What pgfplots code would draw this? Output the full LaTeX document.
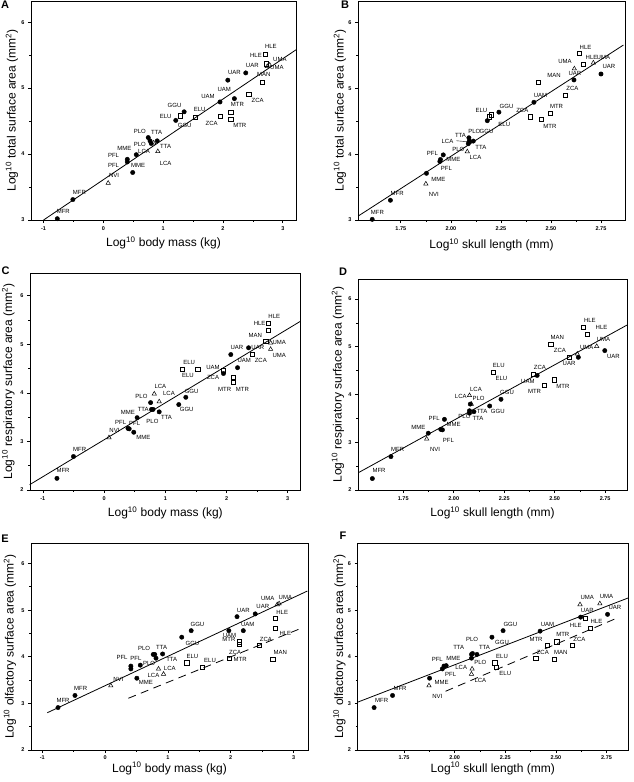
\documentclass[border=0pt]{standalone}
\usepackage{fontspec}
\setmainfont{Liberation Sans}
\usepackage{pgfplots}
\pgfplotsset{compat=1.18}
\usetikzlibrary{calc}
\newcommand{\lb}[3]{\node[font=\fontsize{6}{7}\selectfont, inner sep=0pt] at (axis cs:#1,#2) {#3};}
\pgfplotsset{
 panel/.style={
  scale only axis, anchor=south west, clip=false,
  axis line style={line width=0.9pt},
  tick pos=left, tick align=outside,
  major tick length=3pt, minor tick length=1.6pt,
  minor x tick num=1, minor y tick num=1,
  every tick/.style={black, line width=0.7pt},
  tick label style={font=\fontsize{5.5}{6}\selectfont\bfseries},
  /pgf/number format/assume math mode=true,
  label style={font=\fontsize{12}{14}\selectfont},
 },
 skull/.style={xtick={1.75,2,2.25,2.5,2.75},
   xticklabel style={/pgf/number format/fixed, /pgf/number format/fixed zerofill, /pgf/number format/precision=2},
   xlabel={Log\textsuperscript{10} skull length (mm)}},
 mass/.style={xtick={-1,0,1,2,3}, xlabel={Log\textsuperscript{10} body mass (kg)}},
 circ/.style={only marks, mark=*, mark size=2.2pt, mark options={fill=black, draw=black}},
 sq/.style={only marks, mark=square, mark size=2.1pt, mark options={line width=0.5pt}},
 tri/.style={only marks, mark=triangle, mark size=2.5pt, mark options={line width=0.5pt}},
 reg/.style={black, line width=0.8pt, no marks},
 dreg/.style={black, line width=0.8pt, no marks, dash pattern=on 8pt off 5.5pt},
}
\begin{document}
\begin{tikzpicture}[x=1pt,y=1pt]
\path[use as bounding box] (0,0) rectangle (633,-782);
% ---------------- A
\begin{axis}[panel, mass, at={(31pt,-220pt)}, width=265pt, height=219pt,
  xmin=-1.21, xmax=3.22, ymin=3, ymax=6.32, ytick={3,4,5,6},
  ylabel={Log\textsuperscript{10} total surface area (mm\textsuperscript{2})},
  xlabel style={at={($(axis description cs:0.5,0)+(0,-23pt)$)}, anchor=center},
  ylabel style={at={($(axis description cs:0,0.5)+(-19pt,0)$)}, anchor=center}]
\addplot[reg] coordinates {(-1,3.0) (3.22,5.58)};
\addplot[circ] table {
-0.77 3.02
-0.51 3.31
0.40 3.88
0.40 3.92
0.55 3.99
0.49 3.72
0.75 4.25
0.78 4.20
0.80 4.16
0.90 4.20
1.21 4.51
1.35 4.64
1.95 4.79
2.19 4.84
2.08 5.12
2.38 5.23
};
\addplot[sq] table {
1.29 4.58
1.53 4.56
2.13 4.63
2.13 4.53
1.96 4.57
2.43 4.91
2.65 5.09
2.70 5.51
2.72 5.37
};
\addplot[tri] table {
0.08 3.56
0.91 4.04
0.84 4.17
2.74 5.33
2.78 5.35
};
\lb{2.80}{5.63}{HLE}\lb{2.55}{5.49}{HLE}\lb{2.95}{5.44}{UMA}\lb{2.90}{5.32}{UMA}
\lb{2.49}{5.34}{UAR}\lb{2.68}{5.21}{MAN}\lb{2.19}{5.23}{UAR}\lb{2.02}{4.98}{UAM}
\lb{1.75}{4.88}{UAM}\lb{2.24}{4.75}{MTR}\lb{2.58}{4.81}{ZCA}\lb{1.81}{4.47}{ZCA}
\lb{2.28}{4.44}{MTR}\lb{1.61}{4.67}{ELU}\lb{1.19}{4.73}{GGU}\lb{1.04}{4.57}{ELU}
\lb{1.36}{4.43}{GGU}\lb{0.61}{4.34}{PLO}\lb{0.89}{4.32}{TTA}\lb{0.61}{4.15}{PLO}
\lb{0.35}{4.09}{MME}\lb{0.68}{4.04}{LCA}\lb{1.04}{4.11}{TTA}\lb{0.17}{3.98}{PFL}
\lb{0.17}{3.83}{PFL}\lb{0.58}{3.82}{MME}\lb{1.04}{3.86}{LCA}\lb{0.18}{3.67}{NVI}
\lb{-0.40}{3.42}{MFR}\lb{-0.67}{3.13}{MFR}
\end{axis}
% ---------------- B
\begin{axis}[panel, skull, at={(358pt,-220pt)}, width=267pt, height=219pt,
  xmin=1.536, xmax=2.87, ymin=3, ymax=6.33, ytick={3,4,5,6},
  ylabel={Log\textsuperscript{10} total surface area (mm\textsuperscript{2})},
  xlabel style={at={($(axis description cs:0.5,0)+(0,-25pt)$)}, anchor=center},
  ylabel style={at={($(axis description cs:0,0.5)+(-18pt,0)$)}, anchor=center}]
\addplot[reg] coordinates {(1.537,3.06) (2.862,5.66)};
\addplot[circ] table {
1.607 3.01
1.698 3.30
1.878 3.71
1.945 3.89
1.948 3.92
1.962 3.99
2.090 4.25
2.092 4.20
2.087 4.16
2.112 4.20
2.182 4.51
2.240 4.64
2.415 4.79
2.615 5.13
2.750 5.22
};
\addplot[sq] table {
2.192 4.57
2.203 4.60
2.395 4.57
2.450 4.53
2.498 4.62
2.437 5.10
2.573 4.90
2.642 5.53
2.662 5.37
};
\addplot[tri] table {
1.875 3.55
2.082 4.04
2.095 4.20
2.617 5.30
2.712 5.39
};
\draw[line width=0.4pt] (axis cs:2.028,4.205) -- (axis cs:2.085,4.19);
\lb{1.633}{3.12}{MFR}\lb{1.732}{3.41}{MFR}\lb{1.915}{3.39}{NVI}\lb{1.937}{3.61}{MME}
\lb{1.978}{3.79}{PFL}\lb{2.012}{3.92}{MME}\lb{1.908}{4.01}{PFL}\lb{2.037}{4.07}{PLO}
\lb{2.123}{3.95}{LCA}\lb{2.15}{4.11}{TTA}\lb{1.983}{4.20}{LCA}\lb{2.048}{4.29}{TTA}
\lb{2.117}{4.35}{PLO}\lb{2.178}{4.35}{GGU}\lb{2.153}{4.67}{ELU}\lb{2.278}{4.73}{GGU}
\lb{2.267}{4.46}{ELU}\lb{2.357}{4.67}{ZCA}\lb{2.448}{4.89}{UAM}\lb{2.528}{4.73}{MTR}
\lb{2.495}{4.43}{MTR}\lb{2.515}{5.20}{MAN}\lb{2.607}{5.00}{ZCA}\lb{2.62}{5.23}{UAR}
\lb{2.57}{5.41}{UMA}\lb{2.673}{5.62}{HLE}\lb{2.703}{5.47}{HLE}\lb{2.762}{5.47}{UMA}
\lb{2.79}{5.33}{UAR}
\end{axis}
% ---------------- C
\begin{axis}[panel, mass, at={(30pt,-490pt)}, width=270pt, height=217pt,
  xmin=-1.21, xmax=3.2, ymin=2, ymax=6.47, ytick={2,3,4,5,6},
  ylabel={Log\textsuperscript{10} respiratory surface area (mm\textsuperscript{2})},
  xlabel style={at={($(axis description cs:0.5,0)+(0,-23pt)$)}, anchor=center},
  ylabel style={at={($(axis description cs:0,0.5)+(-22pt,0)$)}, anchor=center}]
\addplot[reg] coordinates {(-1.215,2.11) (3.2,5.47)};
\addplot[circ] table {
-0.77 2.24
-0.50 2.69
0.39 3.27
0.41 3.26
0.485 3.19
0.54 3.49
0.76 3.80
0.775 3.66
0.80 3.66
0.90 3.61
1.22 3.76
1.335 3.91
1.95 4.40
2.18 4.52
2.07 4.79
2.36 4.93
};
\addplot[sq] table {
1.28 4.49
1.53 4.49
1.95 4.46
2.11 4.32
2.11 4.22
2.42 4.80
2.64 5.07
2.68 5.43
2.68 5.29
};
\addplot[tri] table {
0.08 3.08
0.82 3.98
0.90 3.82
2.72 5.03
2.72 4.90
};
\lb{-0.67}{2.40}{MFR}\lb{-0.40}{2.84}{MFR}\lb{0.17}{3.23}{NVI}\lb{0.27}{3.39}{PFL}
\lb{0.50}{3.37}{PFL}\lb{0.64}{3.08}{MME}\lb{0.39}{3.60}{MME}\lb{0.64}{3.66}{TTA}
\lb{1.02}{3.50}{TTA}\lb{0.61}{3.92}{PLO}\lb{0.79}{3.41}{PLO}\lb{0.92}{4.13}{LCA}
\lb{1.06}{3.98}{LCA}\lb{1.35}{3.65}{GGU}\lb{1.43}{4.04}{GGU}\lb{1.39}{4.62}{ELU}
\lb{1.37}{4.35}{ELU}\lb{1.78}{4.52}{UAM}\lb{1.78}{4.31}{ZCA}\lb{2.29}{4.66}{UAM}
\lb{2.17}{4.93}{UAR}\lb{2.51}{4.93}{UAR}\lb{1.97}{4.07}{MTR}\lb{2.26}{4.07}{MTR}
\lb{2.56}{4.66}{ZCA}\lb{2.47}{5.19}{MAN}\lb{2.78}{5.58}{HLE}\lb{2.54}{5.43}{HLE}
\lb{2.86}{5.03}{UMA}\lb{2.86}{4.77}{UMA}
\end{axis}
% ---------------- D
\begin{axis}[panel, skull, at={(358pt,-490pt)}, width=269pt, height=211pt,
  xmin=1.526, xmax=2.858, ymin=2, ymax=6.42, ytick={2,3,4,5,6},
  ylabel={Log\textsuperscript{10} respiratory surface area (mm\textsuperscript{2})},
  xlabel style={at={($(axis description cs:0.5,0)+(0,-23pt)$)}, anchor=center},
  ylabel style={at={($(axis description cs:0,0.5)+(-20pt,0)$)}, anchor=center}]
\addplot[reg] coordinates {(1.531,2.37) (2.858,5.455)};
\addplot[circ] table {
1.597 2.24
1.689 2.70
1.874 3.19
1.936 3.27
1.944 3.26
1.954 3.48
2.078 3.66
2.078 3.61
2.100 3.64
2.082 3.80
2.178 3.76
2.234 3.90
2.413 4.40
2.617 4.78
2.748 4.92
};
\addplot[sq] table {
2.194 4.47
2.393 4.43
2.450 4.20
2.496 4.31
2.480 5.06
2.571 4.78
2.640 5.41
2.662 5.27
};
\addplot[tri] table {
1.866 3.07
2.078 3.98
2.087 3.80
2.612 4.85
2.708 5.01
};
\lb{1.63}{2.41}{MFR}\lb{1.722}{2.84}{MFR}\lb{1.908}{2.85}{NVI}\lb{1.825}{3.31}{MME}
\lb{1.903}{3.50}{PFL}\lb{2.0}{3.38}{MME}\lb{1.974}{3.03}{PFL}\lb{2.053}{3.55}{PLO}
\lb{2.14}{3.64}{TTA}\lb{2.12}{3.49}{TTA}\lb{2.123}{3.92}{PLO}\lb{2.035}{3.96}{LCA}
\lb{2.11}{4.11}{LCA}\lb{2.218}{3.64}{GGU}\lb{2.264}{4.04}{GGU}\lb{2.223}{4.61}{ELU}
\lb{2.236}{4.34}{ELU}\lb{2.427}{4.57}{ZCA}\lb{2.367}{4.27}{UAM}\lb{2.40}{4.06}{MTR}
\lb{2.541}{4.17}{MTR}\lb{2.513}{5.20}{MAN}\lb{2.526}{4.92}{ZCA}\lb{2.571}{4.66}{UAR}
\lb{2.659}{4.99}{UMA}\lb{2.791}{4.80}{UAR}\lb{2.742}{5.16}{UMA}\lb{2.674}{5.55}{HLE}
\lb{2.732}{5.41}{HLE}
\end{axis}
% ---------------- E
\begin{axis}[panel, mass, at={(31pt,-750pt)}, width=277pt, height=207pt,
  xmin=-1.18, xmax=3.23, ymin=2, ymax=6.44, ytick={2,3,4,5,6},
  xticklabel style={/tikz/yshift=1pt},
  ylabel={Log\textsuperscript{10} olfactory surface area (mm\textsuperscript{2})},
  xlabel style={at={($(axis description cs:0.5,0)+(0,-18.5pt)$)}, anchor=center},
  ylabel style={at={($(axis description cs:0,0.5)+(-21pt,0)$)}, anchor=center}]
\addplot[reg] coordinates {(-0.92,2.80) (3.22,5.41)};
\addplot[dreg] coordinates {(0.37,3.11) (3.12,4.61)};
\addplot[circ] table {
-0.75 2.91
-0.48 3.17
0.41 3.80
0.41 3.74
0.56 3.82
0.505 3.54
0.766 4.05
0.79 4.05
0.81 3.97
0.915 4.06
1.22 4.42
1.37 4.56
1.97 4.56
2.20 4.56
2.10 4.86
2.39 4.92
};
\addplot[sq] table {
1.30 3.87
1.55 3.78
2.14 4.32
2.14 4.26
1.98 3.97
2.45 4.24
2.67 3.95
2.71 4.82
2.71 4.62
};
\addplot[tri] table {
0.09 3.38
0.85 3.74
0.93 3.63
2.74 5.12
2.77 5.14
};
\lb{-0.67}{3.06}{MFR}\lb{-0.39}{3.31}{MFR}\lb{0.21}{3.51}{NVI}\lb{0.27}{3.99}{PFL}
\lb{0.49}{3.96}{PFL}\lb{0.70}{3.85}{PLO}\lb{0.65}{3.44}{MME}\lb{0.62}{4.17}{PLO}
\lb{0.90}{4.20}{TTA}\lb{1.06}{3.94}{TTA}\lb{1.03}{3.76}{LCA}\lb{0.77}{3.59}{LCA}
\lb{1.39}{4.28}{GGU}\lb{1.47}{4.69}{GGU}\lb{1.39}{4.01}{ELU}\lb{1.67}{3.92}{ELU}
\lb{1.98}{4.46}{UAM}\lb{2.27}{4.69}{UAM}\lb{2.20}{4.99}{UAR}\lb{2.51}{5.07}{UAR}
\lb{1.97}{4.38}{MTR}\lb{2.15}{3.94}{MTR}\lb{2.07}{4.10}{ZCA}\lb{2.56}{4.38}{ZCA}
\lb{2.79}{4.10}{MAN}\lb{2.82}{4.96}{HLE}\lb{2.87}{4.49}{HLE}\lb{2.59}{5.25}{UMA}
\lb{2.87}{5.28}{UMA}
\end{axis}
% ---------------- F
\begin{axis}[panel, skull, at={(357.5pt,-750pt)}, width=270.5pt, height=207pt,
  xmin=1.52, xmax=2.856, ymin=2, ymax=6.44, ytick={2,3,4,5,6},
  xticklabel style={/tikz/yshift=1pt},
  ylabel={Log\textsuperscript{10} olfactory surface area (mm\textsuperscript{2})},
  xlabel style={at={($(axis description cs:0.5,0)+(0,-18.5pt)$)}, anchor=center},
  ylabel style={at={($(axis description cs:0,0.5)+(-18pt,0)$)}, anchor=center}]
\addplot[reg] coordinates {(1.52,3.025) (2.856,5.26)};
\addplot[dreg] coordinates {(1.955,3.26) (2.807,4.84)};
\addplot[circ] table {
1.602 2.91
1.693 3.17
1.876 3.54
1.939 3.74
1.947 3.80
1.958 3.81
2.083 4.05
2.083 3.97
2.110 4.05
2.088 4.07
2.184 4.42
2.239 4.56
2.422 4.55
2.622 4.85
2.755 4.91
};
\addplot[sq] table {
2.198 3.87
2.204 3.78
2.400 3.96
2.458 4.25
2.504 4.32
2.491 3.95
2.581 4.24
2.645 4.82
2.668 4.62
};
\addplot[tri] table {
1.873 3.38
2.086 3.74
2.083 3.63
2.619 5.12
2.717 5.14
};
\lb{1.639}{3.06}{MFR}\lb{1.73}{3.31}{MFR}\lb{1.914}{3.15}{NVI}\lb{1.935}{3.44}{MME}
\lb{1.914}{3.94}{PFL}\lb{1.993}{3.97}{MME}\lb{1.98}{3.62}{PFL}\lb{2.086}{4.37}{PLO}
\lb{2.02}{4.21}{TTA}\lb{2.147}{4.20}{TTA}\lb{2.127}{3.87}{PLO}\lb{2.032}{3.77}{LCA}
\lb{2.127}{3.49}{LCA}\lb{2.234}{4.30}{GGU}\lb{2.275}{4.69}{GGU}\lb{2.234}{4.01}{ELU}
\lb{2.25}{3.65}{ELU}\lb{2.435}{4.10}{ZCA}\lb{2.524}{4.10}{MAN}\lb{2.458}{4.69}{UAM}
\lb{2.402}{4.38}{MTR}\lb{2.534}{4.47}{MTR}\lb{2.616}{4.38}{ZCA}\lb{2.598}{4.68}{HLE}
\lb{2.70}{4.76}{HLE}\lb{2.655}{4.99}{UAR}\lb{2.791}{5.05}{UAR}\lb{2.655}{5.27}{UMA}
\lb{2.75}{5.29}{UMA}
\end{axis}
% panel letters
\node[font=\fontsize{11}{12}\selectfont\bfseries] at (5,-5) {A};
\node[font=\fontsize{11}{12}\selectfont\bfseries] at (345,-5) {B};
\node[font=\fontsize{11}{12}\selectfont\bfseries] at (5.5,-271) {C};
\node[font=\fontsize{11}{12}\selectfont\bfseries] at (343,-272) {D};
\node[font=\fontsize{11}{12}\selectfont\bfseries] at (5,-539) {E};
\node[font=\fontsize{11}{12}\selectfont\bfseries] at (343,-536) {F};
\end{tikzpicture}
\end{document}
